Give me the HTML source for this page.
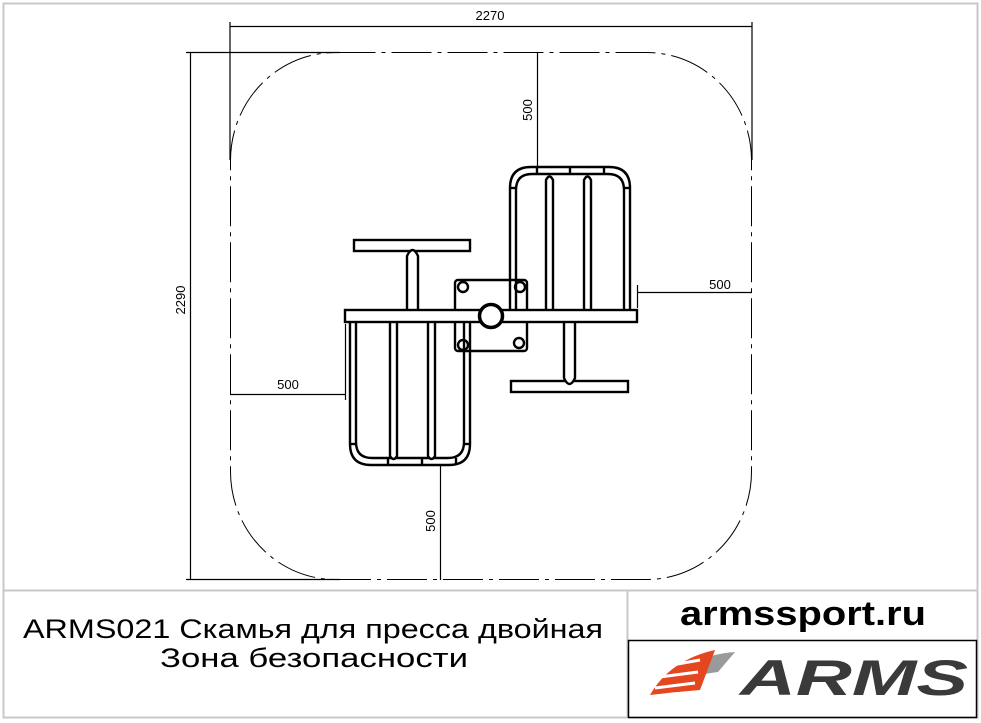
<!DOCTYPE html>
<html><head><meta charset="utf-8"><style>
html,body{margin:0;padding:0;background:#fff;}
svg{display:block;}
</style></head><body>
<svg width="981" height="723" viewBox="0 0 981 723" xmlns="http://www.w3.org/2000/svg" font-family="Liberation Sans, DejaVu Sans, sans-serif">
<!-- frame -->
<rect x="3.5" y="3.5" width="974" height="714" fill="none" stroke="#c8c8c8" stroke-width="2"/>
<line x1="4" y1="590.5" x2="977" y2="590.5" stroke="#c8c8c8" stroke-width="2"/>
<line x1="627.5" y1="591" x2="627.5" y2="717" stroke="#c8c8c8" stroke-width="2"/>
<rect x="628.5" y="640.5" width="348" height="77" fill="none" stroke="#000" stroke-width="1.5"/>

<g stroke="#000" stroke-width="1.2" fill="none">
<!-- dimension lines -->
<line x1="230" y1="22" x2="230" y2="160"/>
<line x1="752" y1="22" x2="752" y2="160"/>
<line x1="230" y1="26.5" x2="752" y2="26.5"/>
<line x1="186" y1="52.5" x2="340" y2="52.5"/>
<line x1="186" y1="579.5" x2="340" y2="579.5"/>
<line x1="190.5" y1="52" x2="190.5" y2="580"/>
<line x1="537.5" y1="52" x2="537.5" y2="168"/>
<line x1="440.5" y1="465" x2="440.5" y2="580"/>
<line x1="637" y1="292.5" x2="752" y2="292.5"/>
<line x1="637.5" y1="285" x2="637.5" y2="308"/>
<line x1="230" y1="394.5" x2="346" y2="394.5"/>
<line x1="345.5" y1="324" x2="345.5" y2="400"/>
</g>
<!-- safety zone -->
<rect x="230.5" y="52.5" width="521" height="527" rx="105" ry="108" fill="none" stroke="#000" stroke-width="1" stroke-dasharray="40,6,4,6"/>

<!-- dim texts -->
<g font-size="13" fill="#000">
<text x="490" y="20" text-anchor="middle">2270</text>
<text x="720" y="289" text-anchor="middle">500</text>
<text x="288" y="389" text-anchor="middle">500</text>
<text transform="translate(185,300) rotate(-90)" text-anchor="middle">2290</text>
<text transform="translate(532,110) rotate(-90)" text-anchor="middle">500</text>
<text transform="translate(435,521) rotate(-90)" text-anchor="middle">500</text>
</g>

<g stroke="#000" stroke-width="2.4" fill="#fff">
<!-- top-right seat -->
<path d="M510,310 V188 Q510,167 531,167 H609 Q630,167 630,188 V310"/>
<path d="M516,310 V190 Q516,174 532,174 H608 Q624,174 624,190 V310" fill="none"/>
<line x1="537" y1="167" x2="537" y2="174"/><line x1="570" y1="167" x2="570" y2="174"/><line x1="604" y1="167" x2="604" y2="174"/>
<line x1="510" y1="188" x2="516" y2="188"/><line x1="624" y1="188" x2="630" y2="188"/>
<path d="M546,310 V180 Q549.5,173 553,180 V310"/>
<path d="M584,310 V180 Q587.5,173 591,180 V310"/>
<!-- bottom-left seat -->
<path d="M350,322 V444 Q350,465 371,465 H449 Q470,465 470,444 V322"/>
<path d="M356,322 V442 Q356,458 372,458 H448 Q464,458 464,442 V322" fill="none"/>
<line x1="388" y1="458" x2="388" y2="465"/><line x1="422" y1="458" x2="422" y2="465"/><line x1="456" y1="458" x2="456" y2="465"/>
<line x1="350" y1="444" x2="356" y2="444"/><line x1="464" y1="444" x2="470" y2="444"/>
<path d="M390,322 V456 Q393.5,462 397,456 V322"/>
<path d="M428,322 V456 Q431.5,462 435,456 V322"/>
<!-- plate -->
<rect x="455" y="280" width="72" height="71" rx="3"/>
<circle cx="463" cy="287" r="5"/><circle cx="520" cy="287" r="5"/>
<circle cx="463" cy="345" r="5"/><circle cx="519" cy="343" r="5"/>
<!-- redraw seat legs over plate -->
<path d="M510,280 V310 M516,280 V310" fill="none"/>
<path d="M464,322 V351 M470,322 V351" fill="none"/>
<!-- handles -->
<rect x="354" y="240" width="116" height="11"/>
<path d="M407,312 V256 Q412.5,244 418,256 V312"/>
<rect x="511" y="381" width="117" height="11"/>
<path d="M564,320 V378 Q569.5,390 575,378 V320"/>
<!-- beam -->
<rect x="345" y="310" width="292" height="12"/>
<circle cx="491" cy="316" r="11.5" stroke-width="3.5"/>
</g>

<!-- title -->
<text x="313" y="638" text-anchor="middle" font-size="27" textLength="580" lengthAdjust="spacingAndGlyphs" fill="#000" font-family="Liberation Sans, DejaVu Sans, sans-serif">ARMS021 Скамья для пресса двойная</text>
<text x="314" y="667" text-anchor="middle" font-size="27" textLength="308" lengthAdjust="spacingAndGlyphs" fill="#000" font-family="Liberation Sans, DejaVu Sans, sans-serif">Зона безопасности</text>
<text x="803" y="625" text-anchor="middle" font-size="34" font-weight="bold" textLength="246" lengthAdjust="spacingAndGlyphs" fill="#000">armssport.ru</text>

<!-- logo -->
<g>
<path d="M660,690 Q690,655 735,652 L718,672 Q690,675 660,690Z" fill="#9a9a9a"/>
<path d="M650,695 Q670,660 715,650 L700,690 Q675,692 650,695Z" fill="#e4461f"/>
<path d="M655,668 L700,660 M652,678 L698,672 M655,688 L695,683" stroke="#fff" stroke-width="3"/>
<text x="740" y="695" font-size="50" font-weight="bold" font-style="italic" textLength="228" lengthAdjust="spacingAndGlyphs" fill="#3a3a3a">ARMS</text>
</g>
</svg>
</body></html>
